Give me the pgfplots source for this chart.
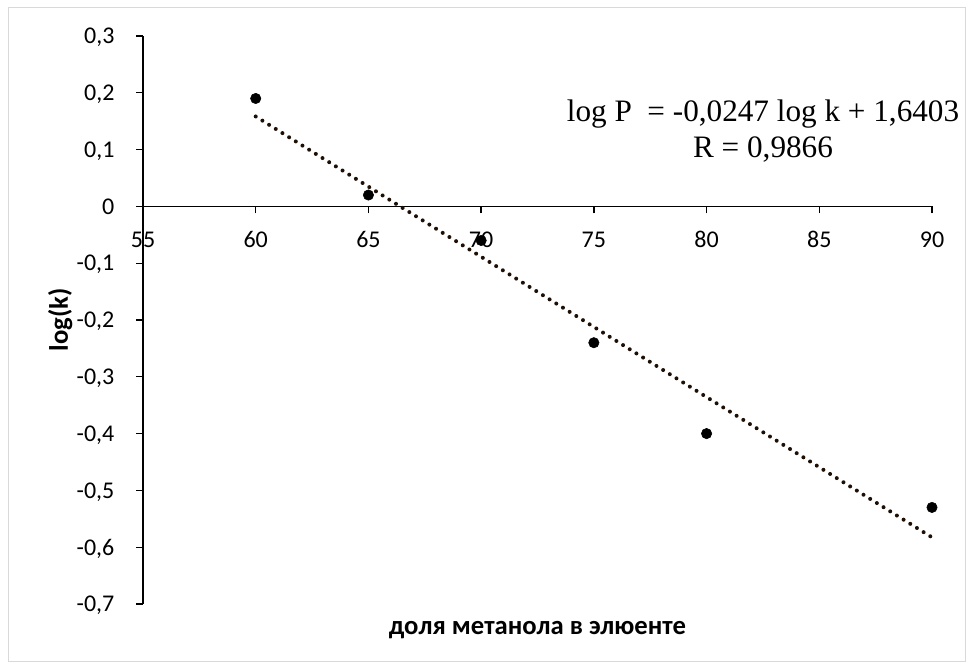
\documentclass[border=0pt]{standalone}
\usepackage{pgfplots}
\pgfplotsset{compat=1.18}
\usepackage{fontspec}
\setmainfont{Carlito}[BoldFont={Carlito Bold}]
\newfontfamily\timesfont{Liberation Serif}
\begin{document}
\begin{tikzpicture}[x=0.75pt,y=0.75pt]
\path[use as bounding box] (0,0) rectangle (973,670);
\draw[line width=0.75pt, color={rgb,255:red,217;green,217;blue,217}] (8,8) rectangle (965,662);
\begin{axis}[
  at={(107.25pt,49.5pt)}, anchor=south west,
  scale only axis, width=591.75pt, height=426pt,
  xmin=55, xmax=90, ymin=-0.7, ymax=0.3,
  axis x line*=middle, axis y line*=left,
  hide obscured x ticks=false, hide obscured y ticks=false,
  axis line style={-, line width=1pt, black},
  tick align=outside, major tick length=5.25pt,
  tick style={line width=1pt, black},
  xtick={55,60,...,90},
  ytick={-0.7,-0.6,-0.5,-0.4,-0.3,-0.2,-0.1,0,0.1,0.2,0.3},
  yticklabels={{-0,7},{-0,6},{-0,5},{-0,4},{-0,3},{-0,2},{-0,1},{0},{0,1},{0,2},{0,3}},
  xticklabels={55,60,65,70,75,80,85,90},
  tick label style={font=\fontsize{18}{21}\selectfont},
  xticklabel style={anchor=center, inner sep=0pt, text depth=0pt, yshift=-19.5pt},
  yticklabel style={anchor=east, inner sep=0pt, text depth=0pt, xshift=-16pt},
  xlabel={\bfseries доля метанола в элюенте},
  xlabel style={at={(axis description cs:0.5,-0.0458)}, anchor=center, font=\fontsize{20}{24}\selectfont},
  ylabel={\bfseries log(k)},
  ylabel style={at={(axis description cs:-0.105,0.5)}, anchor=center, inner sep=0pt, font=\fontsize{20}{24}\selectfont},
  clip=false,
]
\addplot[only marks, mark=*, mark size=3.9pt, black] coordinates {
 (60,0.19) (65,0.02) (70,-0.06) (75,-0.24) (80,-0.40) (90,-0.53)
};
\addplot[line width=3pt, line cap=round, dash pattern=on 0pt off 5.9pt, color={rgb,255:red,30;green,15;blue,5}] coordinates {
 (60,0.1583) (90,-0.5827)
};
\end{axis}
\node[font=\timesfont\fontsize{23.4}{27}\selectfont, align=center] at (763,670-131.5) {log P \ = -0,0247 log k + 1,6403\\R = 0,9866};
\end{tikzpicture}
\end{document}
